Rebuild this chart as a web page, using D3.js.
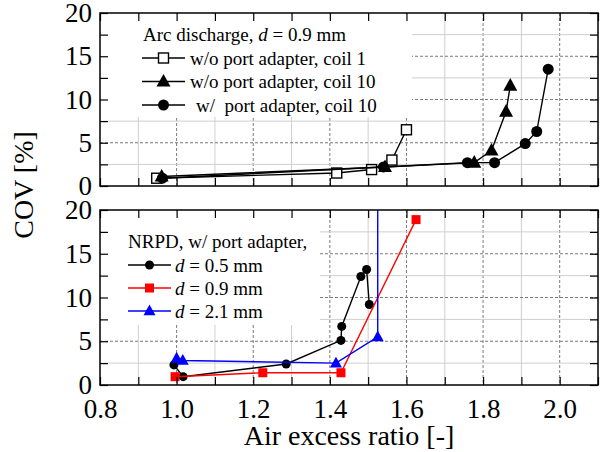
<!DOCTYPE html>
<html>
<head>
<meta charset="utf-8">
<script src="https://cdn.jsdelivr.net/npm/d3@7"></script>
</head>
<body style="margin:0">
<svg id="chart" width="603" height="452"></svg>
<script>
"use strict";

// /////// DATA

// Top panel: arc discharge, d = 0.9 mm
const arcCoil1X = [0.948, 1.418, 1.509, 1.562, 1.6];
const arcCoil1Y = [0.9, 1.5, 1.9, 3.0, 6.5];
const arcNoAdapterX = [0.961, 1.544, 1.777, 1.822, 1.86, 1.871];
const arcNoAdapterY = [1.1, 2.2, 2.7, 4.1, 8.6, 11.6];
const arcAdapterX = [0.963, 1.54, 1.759, 1.83, 1.91, 1.94, 1.97];
const arcAdapterY = [0.9, 2.2, 2.7, 2.7, 4.9, 6.3, 13.5];

// Bottom panel: NRPD, w/ port adapter
const nrpd05X = [0.993, 1.017, 1.286, 1.429, 1.431, 1.481, 1.496, 1.503];
const nrpd05Y = [2.3, 0.95, 2.4, 5.1, 6.7, 12.4, 13.2, 9.2];
const nrpd09X = [0.996, 1.225, 1.429, 1.625];
const nrpd09Y = [0.95, 1.4, 1.4, 18.9];
const nrpd21X = [1.0, 1.016, 1.416, 1.525, 1.525];
const nrpd21Y = [3.05, 2.8, 2.5, 5.5, 40]; // last point runs off the top

const xTickLabels = [0.8, 1.0, 1.2, 1.4, 1.6, 1.8, 2.0];
const yTickLabels = [0, 5, 10, 15, 20];

const FONT = '"Liberation Serif"';

// /////// LAYOUT

const svg = d3.select("#chart");
const left = 100, right = 598;
const x = d3.scaleLinear().domain([0.8, 2.1]).range([left, right]);

const panels = [
  { id: "top", top: 13, bottom: 186 },
  { id: "bot", top: 210, bottom: 385 },
];
panels.forEach((p) => {
  p.y = d3.scaleLinear().domain([0, 20]).range([p.bottom, p.top]);
});

const xMinor = d3.range(9, 21).map((i) => i / 10);
const yMinor = d3.range(1, 8).map((i) => i * 2.5);
const isMajorX = (v) => Math.round(v * 10) % 2 === 0;
const isMajorY = (v) => Math.round(v / 2.5) % 2 === 0;

// Grid lines for a panel
function drawGrid(p) {
  const g = svg.append("g");
  g.selectAll(".gx")
    .data(xMinor)
    .join("line")
    .attr("x1", (d) => x(d)).attr("x2", (d) => x(d))
    .attr("y1", p.top).attr("y2", p.bottom)
    .attr("stroke", (d) => (isMajorX(d) ? "#7a7a7a" : "#cfcfcf"))
    .attr("stroke-width", 1)
    .attr("stroke-dasharray", (d) => (isMajorX(d) ? "3,2" : null));
  g.selectAll(".gy")
    .data(yMinor)
    .join("line")
    .attr("x1", left).attr("x2", right)
    .attr("y1", (d) => p.y(d)).attr("y2", (d) => p.y(d))
    .attr("stroke", (d) => (isMajorY(d) ? "#7a7a7a" : "#cfcfcf"))
    .attr("stroke-width", 1)
    .attr("stroke-dasharray", (d) => (isMajorY(d) ? "3,2" : null));
}

// Axes, inward ticks on all four sides
function drawAxes(p, showX) {
  const allX = d3.range(8, 22).map((i) => i / 10);
  const allY = d3.range(0, 9).map((i) => i * 2.5);

  const gl = svg.append("g").attr("transform", `translate(${left},0)`);
  gl.call(
    d3.axisLeft(p.y).tickValues(allY).tickSizeInner(-8).tickSizeOuter(0)
      .tickPadding(8)
      .tickFormat((d) => (yTickLabels.includes(d) ? d : ""))
  );
  const gr = svg.append("g").attr("transform", `translate(${right},0)`);
  gr.call(d3.axisRight(p.y).tickValues(allY).tickSizeInner(-8).tickSizeOuter(0).tickFormat(""));

  const gt = svg.append("g").attr("transform", `translate(0,${p.top})`);
  gt.call(d3.axisTop(x).tickValues(allX).tickSizeInner(-8).tickSizeOuter(0).tickFormat(""));
  const gb = svg.append("g").attr("transform", `translate(0,${p.bottom})`);
  gb.call(
    d3.axisBottom(x).tickValues(allX).tickSizeInner(-8).tickSizeOuter(0)
      .tickPadding(14)
      .tickFormat((d) => (showX && xTickLabels.some((v) => Math.abs(v - d) < 1e-6) ? d3.format(".1f")(d) : ""))
  );

  [gl, gr, gt, gb].forEach((g) => {
    g.attr("font-family", null).attr("font-size", null);
    g.select(".domain").remove();
    g.selectAll(".tick line").attr("stroke", "#000").attr("stroke-width", 1.2);
    g.selectAll("text").filter(function () { return this.textContent === ""; }).remove();
    g.selectAll("text").attr("fill", "#000")
      .style("font-family", FONT).style("font-size", "27px");
  });

  svg.append("rect")
    .attr("x", left).attr("y", p.top)
    .attr("width", right - left).attr("height", p.bottom - p.top)
    .attr("fill", "none").attr("stroke", "#000").attr("stroke-width", 1.5);
}

// Markers
function marker(g, shape, cx, cy, size, color, open) {
  if (shape === "circle") {
    g.append("circle").attr("cx", cx).attr("cy", cy).attr("r", size / 2)
      .attr("fill", color);
  } else if (shape === "square") {
    g.append("rect").attr("x", cx - size / 2).attr("y", cy - size / 2)
      .attr("width", size).attr("height", size)
      .attr("fill", open ? "#fff" : color)
      .attr("stroke", color).attr("stroke-width", open ? 1.4 : 0);
  } else {
    const h = size * 0.9;
    g.append("path")
      .attr("d", `M${cx},${cy - h * 0.6}L${cx + size / 2},${cy + h * 0.4}L${cx - size / 2},${cy + h * 0.4}Z`)
      .attr("fill", color);
  }
}

function drawSeries(p, xs, ys, s) {
  const pts = xs.map((v, i) => [v, ys[i]]);
  const g = svg.append("g").attr("clip-path", `url(#clip-${p.id})`);
  g.append("path")
    .attr("d", d3.line().x((d) => x(d[0])).y((d) => p.y(d[1]))(pts))
    .attr("fill", "none").attr("stroke", s.color).attr("stroke-width", 1.4);
  pts.filter((d) => d[1] <= 20).forEach((d) => marker(g, s.shape, x(d[0]), p.y(d[1]), s.size, s.color, s.open));
}

function addParts(t, parts) {
  parts.forEach((pt) => t.append("tspan").style("font-style", pt.i ? "italic" : null).text(pt.t));
}

function drawLegend(box, rows, title, s) {
  svg.append("rect")
    .attr("x", box.x).attr("y", box.y).attr("width", box.w).attr("height", box.h)
    .attr("fill", "#fff");
  svg.append("text").attr("x", title.x).attr("y", title.y)
    .style("font-family", FONT).style("font-size", "19px")
    .call((t) => addParts(t, title.parts));
  rows.forEach((r, i) => {
    const cy = s.y0 + i * s.dy;
    svg.append("line").attr("x1", s.x1).attr("x2", s.x2).attr("y1", cy).attr("y2", cy)
      .attr("stroke", r.color).attr("stroke-width", 1.4);
    marker(svg, r.shape, (s.x1 + s.x2) / 2, cy, r.size, r.color, r.open);
    svg.append("text").attr("x", s.tx + (r.dx || 0)).attr("y", cy + 6.5)
      .style("font-family", FONT).style("font-size", "19px").style("white-space", "pre")
      .call((t) => addParts(t, r.parts));
  });
}

// /////// DRAW

const defs = svg.append("defs");
panels.forEach((p) => {
  defs.append("clipPath").attr("id", `clip-${p.id}`)
    .append("rect").attr("x", left).attr("y", p.top)
    .attr("width", right - left).attr("height", p.bottom - p.top);
});

const [pTop, pBot] = panels;

// Top panel
drawGrid(pTop);
drawLegend(
  { x: left + 1, y: pTop.top + 1, w: 311, h: 103 },
  [
    { shape: "square", size: 10, color: "#000", open: true, parts: [{ t: "w/o port adapter, coil 1" }] },
    { shape: "triangle", size: 14, color: "#000", parts: [{ t: "w/o port adapter, coil 10" }] },
    { shape: "circle", size: 11, color: "#000", dx: 6, parts: [{ t: "w/  port adapter, coil 10" }] },
  ],
  { x: 143, y: 41, parts: [{ t: "Arc discharge, " }, { t: "d", i: true }, { t: " = 0.9 mm" }] },
  { x1: 142, x2: 185, tx: 190, y0: 58, dy: 23.5 }
);
drawSeries(pTop, arcCoil1X, arcCoil1Y, { shape: "square", size: 10, color: "#000", open: true });
drawSeries(pTop, arcNoAdapterX, arcNoAdapterY, { shape: "triangle", size: 14, color: "#000" });
drawSeries(pTop, arcAdapterX, arcAdapterY, { shape: "circle", size: 11, color: "#000" });
drawAxes(pTop, false);

// Bottom panel
drawGrid(pBot);
drawLegend(
  { x: left + 1, y: pBot.top + 1, w: 219, h: 114 },
  [
    { shape: "circle", size: 9, color: "#000", parts: [{ t: "d", i: true }, { t: " = 0.5 mm" }] },
    { shape: "square", size: 9, color: "#ff0000", parts: [{ t: "d", i: true }, { t: " = 0.9 mm" }] },
    { shape: "triangle", size: 12, color: "#0000ff", parts: [{ t: "d", i: true }, { t: " = 2.1 mm" }] },
  ],
  { x: 128, y: 248, parts: [{ t: "NRPD, w/ port adapter," }] },
  { x1: 128, x2: 171, tx: 175, y0: 265, dy: 23 }
);
drawSeries(pBot, nrpd05X, nrpd05Y, { shape: "circle", size: 9, color: "#000" });
drawSeries(pBot, nrpd09X, nrpd09Y, { shape: "square", size: 9, color: "#ff0000" });
drawSeries(pBot, nrpd21X, nrpd21Y, { shape: "triangle", size: 12, color: "#0000ff" });
drawAxes(pBot, true);

// Axis titles
svg.append("text")
  .attr("x", (left + right) / 2).attr("y", 445)
  .attr("text-anchor", "middle")
  .style("font-family", FONT).style("font-size", "28px")
  .text("Air excess ratio [-]");
svg.append("text")
  .attr("transform", "translate(33,185) rotate(-90)")
  .attr("text-anchor", "middle")
  .style("font-family", FONT).style("font-size", "28px")
  .text("COV [%]");
</script>
</body>
</html>
